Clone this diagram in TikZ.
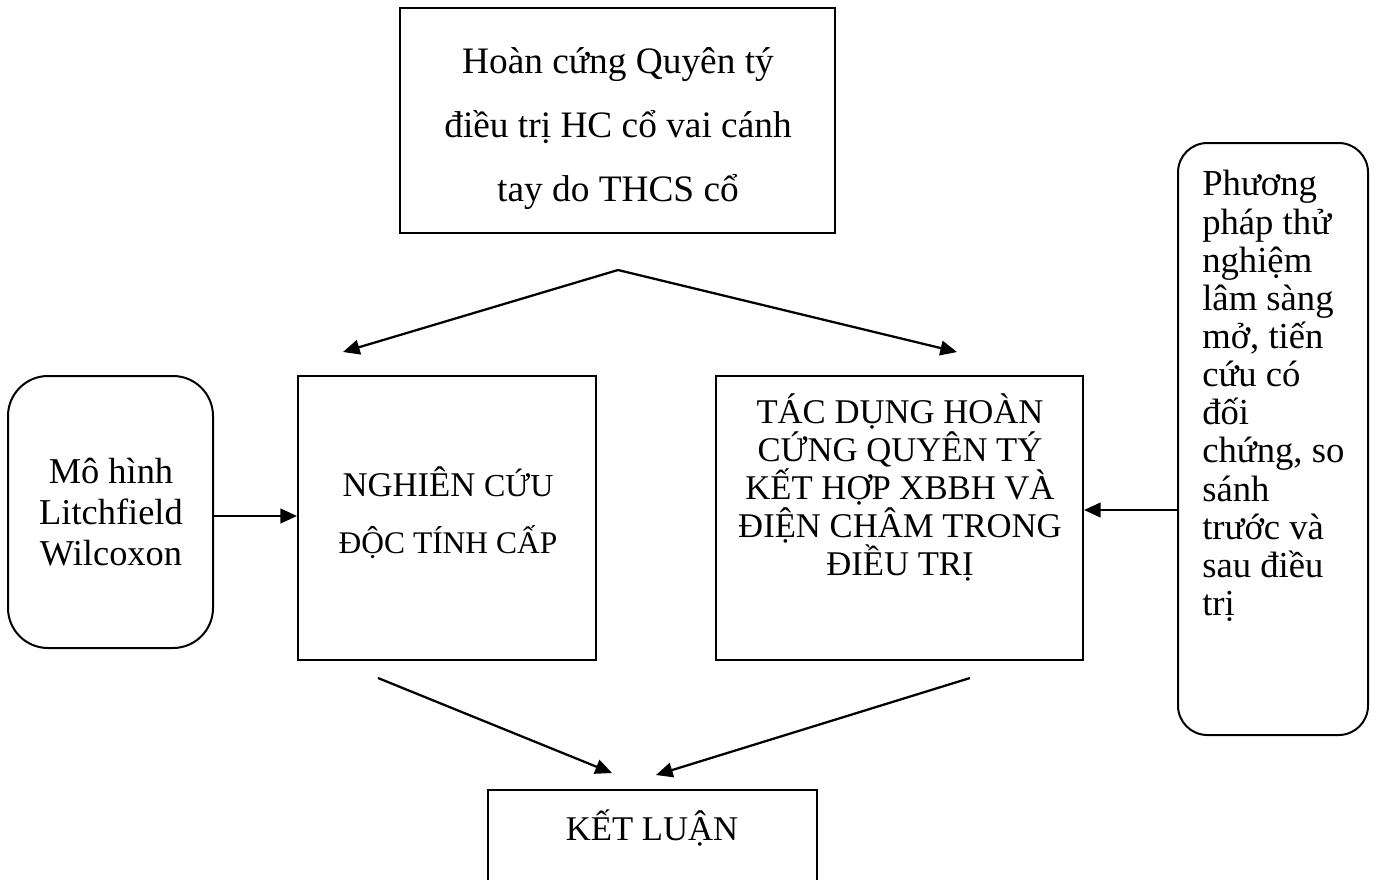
\documentclass[tikz,border=0pt]{standalone}
\usepackage{fontspec}
\setmainfont{Liberation Serif}
\usetikzlibrary{arrows.meta}
\tikzset{
  boxnode/.style={draw=black, line width=1.5pt, rectangle, inner sep=0pt},
  roundbox/.style={boxnode, rounded corners=#1},
  txt/.style={inner sep=0pt, font=\fontsize{26}{28.5}\selectfont, align=center},
  conn/.style={line width=1.7pt, -{Triangle[length=12.5pt,width=11pt]}}
}
\begin{document}
\begin{tikzpicture}[x=0.75pt,y=-0.75pt]
\clip (0,0) rectangle (1376,879);
\useasboundingbox (0,0) rectangle (1376,879);
\fill[white] (0,0) rectangle (1376,879);
% boxes
\node[boxnode, minimum width=326.25pt, minimum height=168.75pt] (top) at (617.5,120.5) {};
\node[roundbox=30pt, minimum width=153.75pt, minimum height=204pt] (lit) at (110.5,512) {};
\node[boxnode, minimum width=223.5pt, minimum height=213pt] (ngh) at (447,518) {};
\node[boxnode, minimum width=275.25pt, minimum height=213pt] (tac) at (899.5,518) {};
\node[roundbox=22pt, minimum width=142.5pt, minimum height=444pt] (pp) at (1273,439) {};
\node[boxnode, minimum width=246.75pt, minimum height=82.5pt] (ket) at (652.5,845) {};
% texts
\node[txt, font=\fontsize{28}{48}\selectfont] (toptxt) at (618,129) {Hoàn cứng Quyên tý\\điều trị HC cổ vai cánh\\tay do THCS cổ};
\node[txt, font=\fontsize{27.3}{31}\selectfont] (littxt) at (111,512) {Mô hình\\Litchfield\\Wilcoxon};
\node[txt, font=\fontsize{26}{43}\selectfont] (nghtxt) at (448,513) {NGHIÊN {\fontsize{24}{24}\selectfont CỨU}\\{\fontsize{23.6}{24}\selectfont ĐỘC TÍNH CẤP}};
\node[txt] (tactxt) at (900,487) {TÁC DỤNG HOÀN\\CỨNG QUYÊN TÝ\\KẾT HỢP XBBH VÀ\\ĐIỆN CHÂM TRONG\\ĐIỀU TRỊ};
\node[txt, align=left, anchor=west, font=\fontsize{27.5}{28.6}\selectfont] (pptxt) at (1202,396) {Phương\\pháp thử\\nghiệm\\lâm sàng\\mở, tiến\\cứu có\\đối\\chứng, so\\sánh\\trước và\\sau điều\\trị};
\node[txt] (kettxt) at (652,828) {KẾT LUẬN};
% connector end points
\coordinate (apex) at (618,270);
\coordinate (endL) at (343,352);
\coordinate (endR) at (957,352);
\coordinate (fromN) at (378,678);
\coordinate (toK1) at (612,773);
\coordinate (fromT) at (970,678);
\coordinate (toK2) at (656,775);
% connectors
\draw[conn] (apex) -- (endL);
\draw[conn] (apex) -- (endR);
\draw[conn] (lit.east |- 0,516) -- (ngh.west |- 0,516);
\draw[conn] (pp.west |- 0,510) -- (tac.east |- 0,510);
\draw[conn] (fromN) -- (toK1);
\draw[conn] (fromT) -- (toK2);
\end{tikzpicture}
\end{document}
